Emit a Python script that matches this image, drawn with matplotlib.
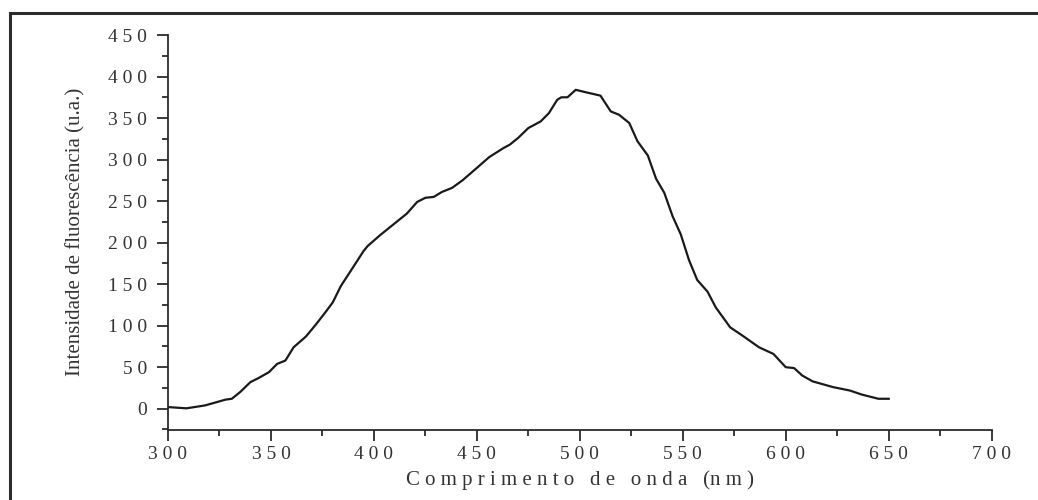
import numpy as np
import matplotlib
matplotlib.use('Agg')
import matplotlib.pyplot as plt
from matplotlib.ticker import MultipleLocator, FuncFormatter
from matplotlib.lines import Line2D

# Espectro de fluorescencia
comprimento = [300, 309, 318, 328, 331, 335, 340, 344, 349, 353, 357, 361,
               367, 372, 377, 380, 384, 389, 395, 397, 403, 408, 412, 416,
               421, 425, 429, 433, 438, 443, 450, 456, 463, 466, 470, 475,
               481, 485, 489, 491, 494, 498, 503, 510, 515, 519, 524, 528,
               533, 537, 541, 545, 549, 553, 557, 562, 566, 573, 579, 587,
               594, 600, 604, 608, 613, 623, 631, 637, 645, 650]
intensidade = [2, 0.5, 4, 11, 12, 20, 32, 37, 44, 54, 58, 74,
               87, 102, 118, 128, 148, 167, 190, 196, 209, 219, 227, 235,
               249, 254, 255, 261, 266, 275, 290, 303, 314, 318, 326, 338,
               346, 356, 372, 375, 375, 384, 381, 377, 358, 354, 344, 322,
               305, 277, 260, 232, 210, 179, 155, 141, 122, 98, 88, 74,
               66, 50, 49, 40, 33, 26, 22, 17, 12, 12]

x_ticks = [300, 350, 400, 450, 500, 550, 600, 650, 700]
y_ticks = [0, 50, 100, 150, 200, 250, 300, 350, 400, 450]

cor = '#2b2b2b'
plt.rcParams['font.family'] = ['Liberation Serif', 'DejaVu Serif']

fig = plt.figure(figsize=(10.38, 5.0), dpi=100)
ax = fig.add_axes([168 / 1038, 1 - 429.5 / 500, (991.7 - 168) / 1038,
                   (429.5 - 35) / 500])

ax.plot(comprimento, intensidade, color='#1a1a1a', lw=1.6)

ax.set_xlim(300, 700)
ax.set_ylim(-25, 450)
ax.set_xticks(x_ticks)
ax.set_yticks(y_ticks)
ax.xaxis.set_minor_locator(MultipleLocator(25))
ax.yaxis.set_minor_locator(MultipleLocator(25))

espacado = FuncFormatter(lambda v, p: ' '.join(str(int(v))))
ax.xaxis.set_major_formatter(espacado)
ax.yaxis.set_major_formatter(espacado)

for s in ['top', 'right']:
    ax.spines[s].set_visible(False)
for s in ['left', 'bottom']:
    ax.spines[s].set_color(cor)
    ax.spines[s].set_linewidth(1.3)

ax.tick_params(which='major', direction='out', length=8, width=1.3,
               color=cor, labelcolor='#333333', labelsize=14)
ax.tick_params(which='minor', direction='out', length=4, width=1.3,
               color=cor)
ax.tick_params(axis='y', which='major', pad=7)
ax.tick_params(axis='x', which='major', pad=4)

ax.set_ylabel('Intensidade de fluorescência (u.a.)', fontsize=15,
              color='#333333', labelpad=16)
ax.set_xlabel('C o m p r i m e n t o   d e   o n d a   (n m )',
              fontsize=15, color='#333333', labelpad=5)

# moldura externa (cortada na direita e em baixo)
fig.add_artist(Line2D([9.5 / 1038, 9.5 / 1038], [1 - 13 / 500, -0.1],
                      transform=fig.transFigure, color=cor, lw=2.2))
fig.add_artist(Line2D([9.5 / 1038, 1.1], [1 - 13 / 500, 1 - 13 / 500],
                      transform=fig.transFigure, color=cor, lw=2.2))

fig.savefig('out.png', dpi=100)
